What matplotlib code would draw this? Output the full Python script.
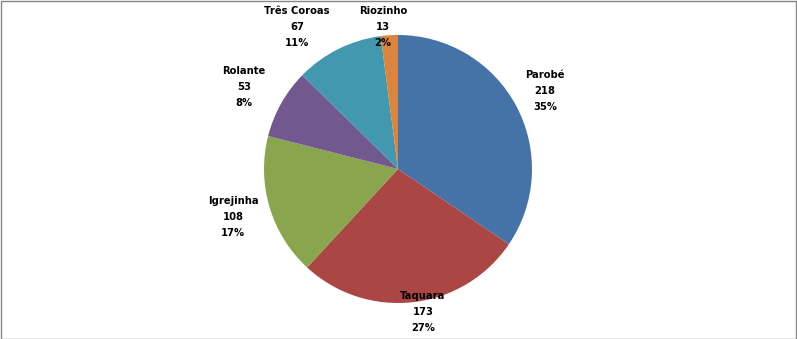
import matplotlib.pyplot as plt
from matplotlib.patches import Rectangle

cities = ["Parobé", "Taquara", "Igrejinha", "Rolante", "Três Coroas", "Riozinho"]
counts = [218, 173, 108, 53, 67, 13]
pct_labels = ["35%", "27%", "17%", "8%", "11%", "2%"]
colors = ["#4572A7", "#AA4643", "#89A54E", "#71588F", "#4198AF", "#DB843D"]

# label anchor points in pixels (center of the text block)
label_px = [(545, 91), (423, 312), (233, 217), (244, 87), (297, 27), (383, 27)]

W, H = 797, 339
cx, cy, r = 398, 169, 134

fig = plt.figure(figsize=(W / 100, H / 100), dpi=100)
ax = fig.add_axes([(cx - r) / W, (H - cy - r) / H, 2 * r / W, 2 * r / H])
ax.pie(counts, colors=colors, startangle=90, counterclock=False,
       wedgeprops=dict(linewidth=0))
ax.set_xlim(-1, 1)
ax.set_ylim(-1, 1)
ax.set_aspect("equal")
ax.axis("off")

for name, n, p, (px, py) in zip(cities, counts, pct_labels, label_px):
    fig.text(px / W, 1 - py / H, f"{name}\n{n}\n{p}", ha="center", va="center",
             fontsize=7.2, fontweight="bold", linespacing=1.72, color="black")

fig.patches.append(Rectangle((0.5 / W, 0.5 / H), 1 - 1.5 / W, 1 - 1.5 / H,
                             transform=fig.transFigure, fill=False,
                             edgecolor="#868686", linewidth=1))

fig.savefig("out.png", dpi=100)
